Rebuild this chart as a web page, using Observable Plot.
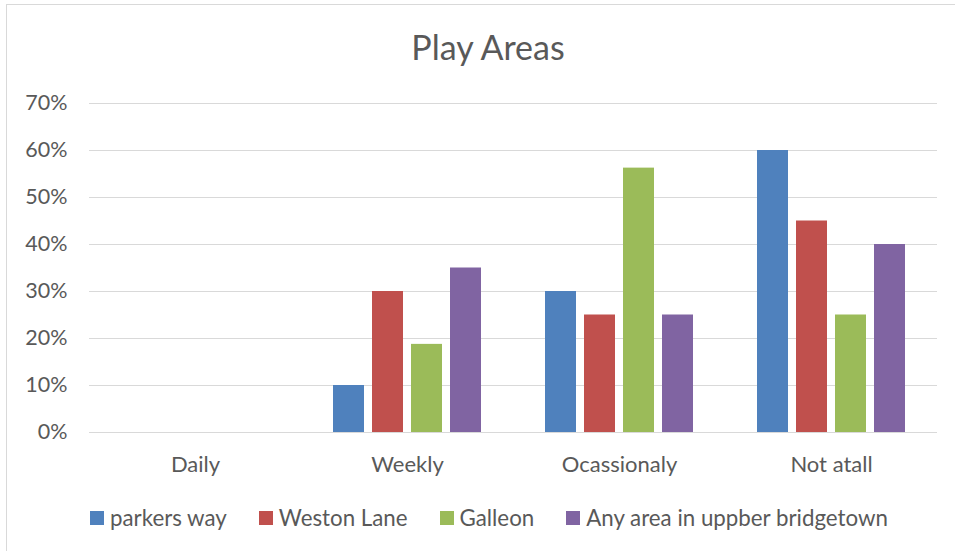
<!DOCTYPE html>
<html>
<head>
<meta charset="utf-8">
<script src="https://cdn.jsdelivr.net/npm/d3@7"></script>
<script src="https://cdn.jsdelivr.net/npm/@observablehq/plot@0.6"></script>
<style>
  html, body { margin: 0; padding: 0; background: #fff; }
  body { width: 955px; height: 551px; position: relative; overflow: hidden; font-family: Lato, Carlito, Calibri, sans-serif; color: #595959; }
  #frame { position: absolute; left: 6px; top: 4px; width: 960px; height: 560px; border-left: 1.5px solid #d9d9d9; border-top: 1.5px solid #d9d9d9; box-sizing: border-box; }
  #title { position: absolute; left: 0; top: 27px; width: 976px; text-align: center; font-size: 34px; line-height: 40px; color: #595959; }
  #chart { position: absolute; left: 0; top: 80px; }
  #legend { position: absolute; left: 90px; top: 506px; display: flex; align-items: center; font-size: 22.3px; line-height: 24px; color: #595959; white-space: nowrap; }
  .item { display: flex; align-items: center; margin-right: 32px; }
  .sw { width: 14px; height: 14px; margin-right: 6px; }
</style>
</head>
<body>
<div id="frame"></div>
<div id="title">Play Areas</div>
<div id="chart"></div>
<div id="legend"></div>
<script>
const categories = ["Daily", "Weekly", "Ocassionaly", "Not atall"];
const series = ["parkers way", "Weston Lane", "Galleon", "Any area in uppber bridgetown"];
const colors = ["#4F81BD", "#C0504D", "#9BBB59", "#8064A2"];
const parkersWay = [0, 0.10, 0.30, 0.60];
const westonLane = [0, 0.30, 0.25, 0.45];
const galleon = [0, 0.1875, 0.5625, 0.25];
const anyArea = [0, 0.35, 0.25, 0.40];
const yTicks = [0, 0.1, 0.2, 0.3, 0.4, 0.5, 0.6, 0.7];

const valuesBySeries = [parkersWay, westonLane, galleon, anyArea];
const data = [];
categories.forEach((c, i) => {
  series.forEach((s, j) => {
    data.push({category: c, series: s, value: valuesBySeries[j][i]});
  });
});

const chart = Plot.plot({
  width: 955,
  height: 400,
  marginLeft: 88,
  marginRight: 18,
  marginTop: 23,
  marginBottom: 48,
  style: {fontFamily: "Lato, Carlito, Calibri, sans-serif", color: "#595959", background: "transparent"},
  fx: {domain: categories, padding: 0, label: null, axis: null},
  x: {domain: series, axis: null, paddingInner: 0.205, paddingOuter: 0.82},
  y: {domain: [0, 0.7], ticks: yTicks, axis: null},
  color: {domain: series, range: colors},
  marks: [
    Plot.ruleY(yTicks, {y: d => d, stroke: "#d9d9d9", strokeWidth: 1.2}),
    Plot.barY(data, {fx: "category", x: "series", y: "value", fill: "series"}),
    Plot.axisY({ticks: yTicks, tickFormat: d3.format(".0%"), tickSize: 0, tickPadding: 22, fontSize: 21.5, facetAnchor: "left", label: null}),
    Plot.axisFx({tickSize: 0, tickPadding: 24, fontSize: 22, label: null, anchor: "bottom"})
  ]
});
document.getElementById("chart").appendChild(chart);

const legend = document.getElementById("legend");
series.forEach((s, j) => {
  const item = document.createElement("div");
  item.className = "item";
  const sw = document.createElement("div");
  sw.className = "sw";
  sw.style.background = colors[j];
  const t = document.createElement("span");
  t.textContent = s;
  item.appendChild(sw);
  item.appendChild(t);
  legend.appendChild(item);
});
</script>
</body>
</html>
